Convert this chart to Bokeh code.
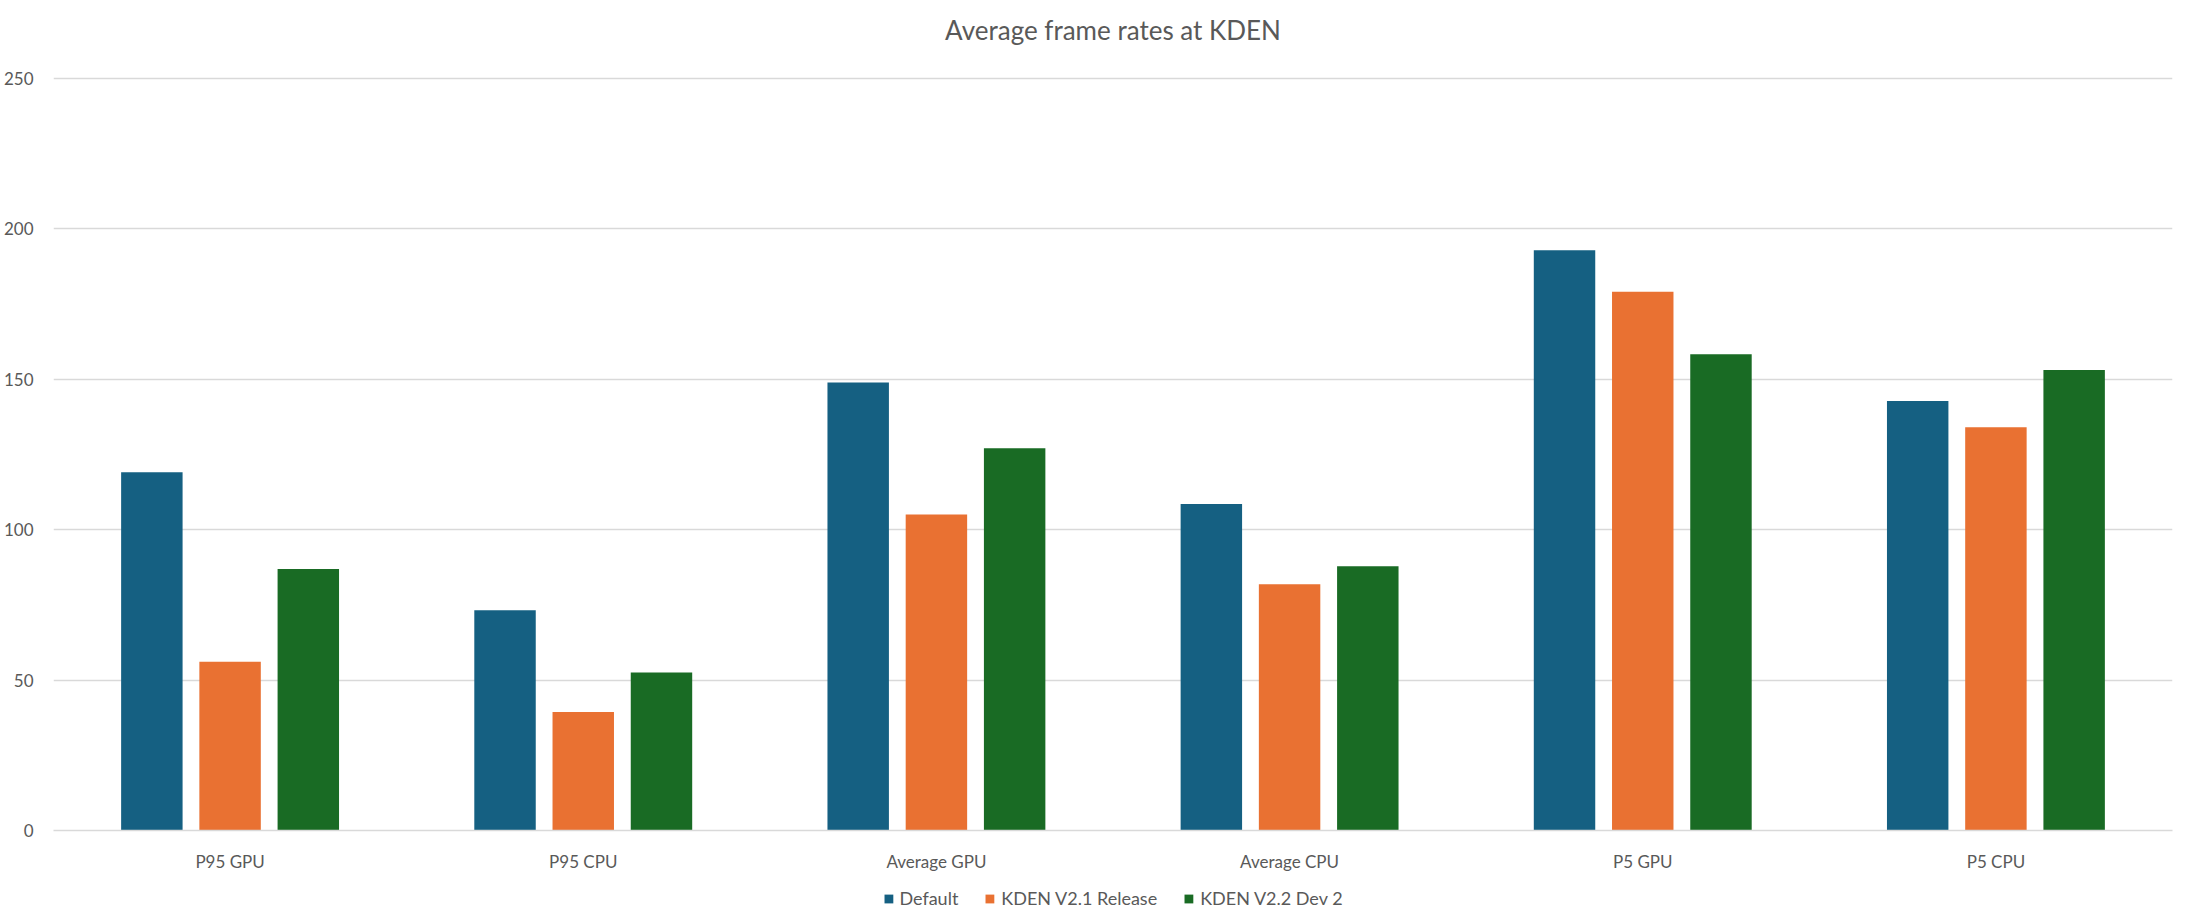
from bokeh.plotting import figure
from bokeh.layouts import column
from bokeh.embed import file_html
from bokeh.resources import INLINE
from bokeh.models import ColumnDataSource, FactorRange, Range1d, FixedTicker, Legend, LegendItem, Title
from bokeh.transform import dodge

categories = ["P95 GPU", "P95 CPU", "Average GPU", "Average CPU", "P5 GPU", "P5 CPU"]
series_names = ["Default", "KDEN V2.1 Release", "KDEN V2.2 Dev 2"]
default_fps = [119.0, 73.2, 148.8, 108.5, 192.8, 142.7]
kden_v21 = [56.1, 39.4, 105.0, 81.8, 179.0, 134.0]
kden_v22 = [86.9, 52.5, 127.0, 87.8, 158.2, 153.0]
y_ticks = [0, 50, 100, 150, 200, 250]

colors = ["#156082", "#E97132", "#196B24"]
text_color = "#595959"
font = "Lato"

source = ColumnDataSource(data=dict(
    cat=categories,
    s0=default_fps,
    s1=kden_v21,
    s2=kden_v22,
))

p = figure(
    x_range=FactorRange(*categories, range_padding=0),
    y_range=Range1d(0, 250.5),
    width=2179, height=876,
    output_backend="svg",
    toolbar_location=None,
    min_border_left=48, min_border_right=7,
    min_border_top=76, min_border_bottom=46,
    title=None,
)
p.x_range.factor_padding = 0

# blank spacer between frame and title, so the title sits higher up
p.add_layout(Title(text=" ", text_font_size="1px", standoff=28), "above")
p.add_layout(Title(text="Average frame rates at KDEN", align="center",
                   text_font=font, text_font_size="26px", text_font_style="normal",
                   text_color=text_color, standoff=0), "above")

offsets = [-0.2215, 0.0, 0.2215]
series_cols = ["s0", "s1", "s2"]
for i, col in enumerate(series_cols):
    p.vbar(x=dodge("cat", offsets[i], range=p.x_range), top=col, width=0.174,
           source=source, fill_color=colors[i], line_color=None)

p.yaxis.ticker = FixedTicker(ticks=y_ticks)
p.yaxis.axis_line_color = None
p.yaxis.major_tick_line_color = None
p.yaxis.minor_tick_line_color = None
p.yaxis.major_label_standoff = 14
p.yaxis.major_label_text_font = font
p.yaxis.major_label_text_font_size = "17px"
p.yaxis.major_label_text_color = text_color

p.xaxis.axis_line_color = "#D9D9D9"
p.xaxis.axis_line_width = 1.5
p.xaxis.major_tick_line_color = None
p.xaxis.minor_tick_line_color = None
p.xaxis.major_label_standoff = 14
p.xaxis.major_label_text_font = font
p.xaxis.major_label_text_font_size = "17px"
p.xaxis.major_label_text_color = text_color

p.xgrid.grid_line_color = None
p.ygrid.grid_line_color = "#D9D9D9"
p.ygrid.grid_line_width = 1.5
p.outline_line_color = None

# legend strip under the chart (a legend below the frame gets clipped otherwise);
# its renderers are hidden, only the legend swatches show
leg = figure(width=2179, height=44, output_backend="svg", toolbar_location=None,
             x_range=p.x_range, y_range=Range1d(-2, -1),
             min_border=0, outline_line_color=None)
leg.axis.visible = False
leg.grid.visible = False
items = []
for i, (name, col) in enumerate(zip(series_names, series_cols)):
    r = leg.vbar(x=dodge("cat", offsets[i], range=leg.x_range), top=col, width=0.174,
                 source=source, fill_color=colors[i], line_color=None, visible=False)
    items.append(LegendItem(label=name, renderers=[r], index=0))

legend = Legend(items=items, orientation="horizontal", location="center",
                label_text_font=font, label_text_font_size="18px",
                label_text_color=text_color, glyph_width=11, glyph_height=11,
                label_standoff=6, spacing=26, border_line_color=None,
                background_fill_alpha=0, padding=0, margin=0,
                inactive_fill_alpha=0)
leg.add_layout(legend)

layout = column(p, leg, spacing=0)
open("out.html", "w").write(file_html(layout, INLINE))
